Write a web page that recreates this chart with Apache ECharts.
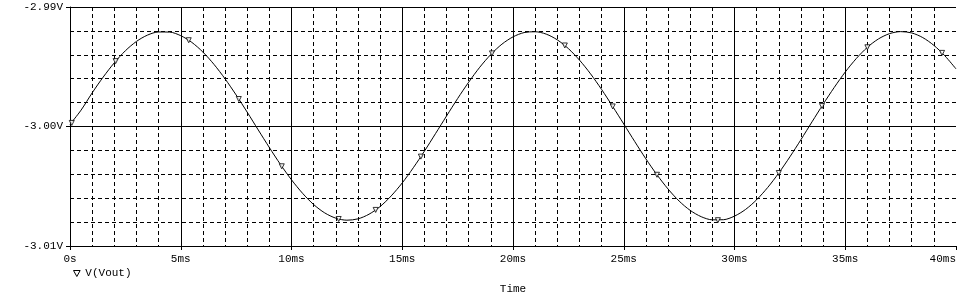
<!DOCTYPE html>
<html>
<head>
<meta charset="utf-8">
<title>V(Vout)</title>
<script src="https://cdn.jsdelivr.net/npm/echarts@6/dist/echarts.min.js"></script>
<style>
    html, body { margin: 0; padding: 0; background: #fff; }
    #chart { width: 963px; height: 296px; }
</style>
</head>
<body>
<div id="chart"></div>
<script>
// time in ms (0.5ms steps), voltage in V
var times = [0, 0.5, 1, 1.5, 2, 2.5, 3, 3.5, 4, 4.5, 5, 5.5, 6, 6.5, 7, 7.5, 8, 8.5, 9, 9.5,
    10, 10.5, 11, 11.5, 12, 12.5, 13, 13.5, 14, 14.5, 15, 15.5, 16, 16.5, 17, 17.5, 18, 18.5, 19, 19.5,
    20, 20.5, 21, 21.5, 22, 22.5, 23, 23.5, 24, 24.5, 25, 25.5, 26, 26.5, 27, 27.5, 28, 28.5, 29, 29.5,
    30, 30.5, 31, 31.5, 32, 32.5, 33, 33.5, 34, 34.5, 35, 35.5, 36, 36.5, 37, 37.5, 38, 38.5, 39, 39.5, 40];
var vout = [
    -2.99982, -2.99863, -2.99719, -2.99586, -2.99467, -2.99366, -2.99288, -2.99235, -2.99209, -2.99210,
    -2.99240, -2.99296, -2.99377, -2.99480, -2.99601, -2.99736, -2.99880, -3.00029, -3.00176, -3.00317,
    -3.00446, -3.00559, -3.00653, -3.00723, -3.00767, -3.00784, -3.00773, -3.00734, -3.00670, -3.00581,
    -3.00472, -3.00345, -3.00207, -3.00060, -2.99912, -2.99766, -2.99629, -2.99504, -2.99397, -2.99311,
    -2.99250, -2.99214, -2.99207, -2.99227, -2.99275, -2.99348, -2.99444, -2.99559, -2.99690, -2.99832,
    -2.99979, -3.00127, -3.00271, -3.00404, -3.00523, -3.00624, -3.00702, -3.00755, -3.00781, -3.00780,
    -3.00750, -3.00694, -3.00613, -3.00510, -3.00389, -3.00254, -3.00110, -2.99961, -2.99814, -2.99674,
    -2.99544, -2.99431, -2.99337, -2.99267, -2.99223, -2.99206, -2.99217, -2.99256, -2.99321, -2.99409,
    -2.99518];

// trace markers
var markTimes = [0.08, 2.06, 5.36, 7.62, 9.56, 12.13, 13.8, 15.84, 19.05, 22.34, 24.5,
    26.5, 29.25, 32.0, 33.95, 36.0, 39.37];
var markVout = [-2.99970, -2.99453, -2.99278, -2.99770, -3.00333, -3.00774, -3.00698, -3.00252,
    -2.99388, -2.99322, -2.99832, -3.00404, -3.00784, -3.00389, -2.99829, -2.99337, -2.99384];

var xTicks = ['0s', '5ms', '10ms', '15ms', '20ms', '25ms', '30ms', '35ms', '40ms'];

var font = 'Liberation Mono';
var dash = [4, 3];

var lineData = times.map(function (t, i) { return [t, vout[i]]; });
var markData = markTimes.map(function (t, i) { return [t, markVout[i]]; });

var myChart = echarts.init(document.getElementById('chart'));
var option = {
    animation: false,
    backgroundColor: '#fff',
    textStyle: { fontFamily: font, color: '#000' },
    grid: { left: 70, right: 7, top: 7, bottom: 50, containLabel: false, outerBoundsMode: 'none' },
    legend: {
        data: ['V(Vout)'],
        left: 68,
        top: 263,
        icon: 'path://M0,0 L10,0 L5,9 Z',
        itemWidth: 7,
        itemHeight: 6,
        itemStyle: { color: '#fff', borderColor: '#000', borderWidth: 1 },
        textStyle: { fontFamily: font, fontSize: 11, color: '#000' }
    },
    xAxis: {
        type: 'value',
        min: 0,
        max: 40,
        interval: 5,
        name: 'Time',
        nameLocation: 'middle',
        nameGap: 38,
        nameTextStyle: { fontFamily: font, fontSize: 11, color: '#000' },
        axisLine: { onZero: false, lineStyle: { color: '#000', width: 1 } },
        axisTick: { show: true, length: 4, lineStyle: { color: '#000' } },
        axisLabel: {
            margin: 8,
            fontFamily: font,
            fontSize: 11,
            color: '#000',
            alignMaxLabel: 'right',
            formatter: function (v) { return xTicks[Math.round(v / 5)]; }
        },
        splitLine: { show: true, showMaxLine: false, lineStyle: { color: '#000', width: 1 } },
        minorTick: { show: false, splitNumber: 5 },
        minorSplitLine: { show: true, lineStyle: { color: '#000', width: 1, type: dash } }
    },
    yAxis: {
        type: 'value',
        min: -3.01,
        max: -2.99,
        interval: 0.01,
        axisLine: { show: true, onZero: false, lineStyle: { color: '#000', width: 1 } },
        axisTick: { show: true, length: 4, lineStyle: { color: '#000' } },
        axisLabel: {
            margin: 7,
            fontFamily: font,
            fontSize: 11,
            color: '#000',
            formatter: function (v) { return v.toFixed(2) + 'V'; }
        },
        splitLine: { show: true, lineStyle: { color: '#000', width: 1 } },
        minorTick: { show: false, splitNumber: 5 },
        minorSplitLine: { show: true, lineStyle: { color: '#000', width: 1, type: dash } }
    },
    series: [
        {
            name: 'V(Vout)',
            type: 'line',
            data: lineData,
            smooth: 0.3,
            showSymbol: false,
            lineStyle: { color: '#000', width: 1 },
            itemStyle: { color: '#000' }
        },
        {
            name: 'markers',
            type: 'scatter',
            data: markData,
            symbol: 'triangle',
            symbolRotate: 180,
            symbolSize: 5,
            itemStyle: { color: '#fff', borderColor: '#000', borderWidth: 1 },
            z: 3
        }
    ]
};
myChart.setOption(option);
</script>
</body>
</html>
